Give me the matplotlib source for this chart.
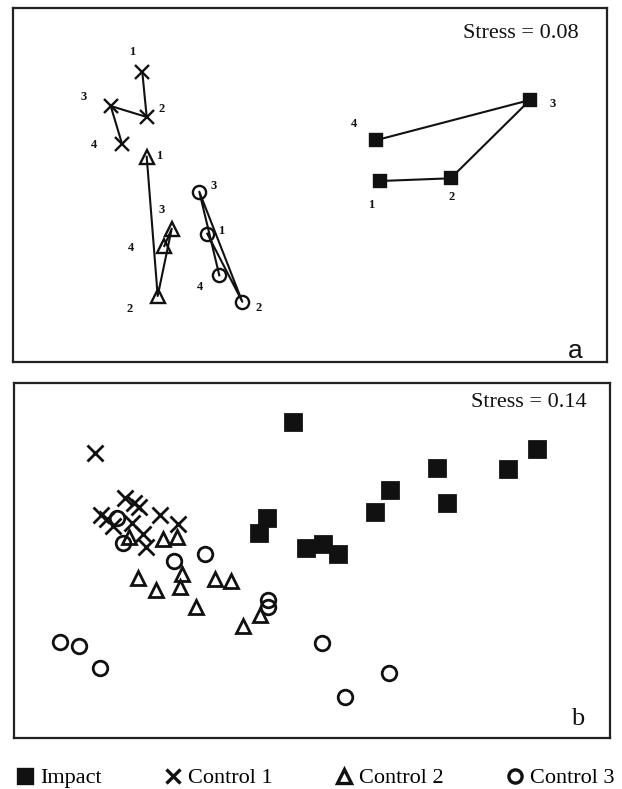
import matplotlib
matplotlib.use("Agg")
import matplotlib.pyplot as plt
from matplotlib.lines import Line2D

# ---------------- data (NMDS ordination coordinates, arbitrary units) -------------
# Panel a: centroids of the four sampling times (1-4) for each location
times_a = ["1", "2", "3", "4"]
impact_a_x = [367.0, 437.7, 517.0, 362.7]
impact_a_y = [181.0, 183.7, 262.0, 221.7]
c1_a_x = [129.3, 133.7, 97.7, 109.0]
c1_a_y = [290.0, 245.0, 256.0, 218.3]
c2_a_x = [133.7, 144.7, 158.7, 151.3]
c2_a_y = [205.3, 66.0, 133.3, 116.0]
c3_a_x = [194.3, 229.3, 186.3, 206.3]
c3_a_y = [128.3, 60.3, 170.3, 86.7]

# Panel b: individual replicate samples
impact_b_x = [278.7, 252.7, 245.3, 291.7, 308.7, 323.7, 361.0, 376.0, 423.3, 433.3, 494.3, 522.7]
impact_b_y = [315.7, 220.3, 205.3, 189.7, 193.7, 184.0, 226.3, 248.0, 270.3, 235.3, 269.0, 288.7]
c1_b_x = [81.0, 111.0, 120.0, 125.0, 87.0, 93.0, 99.0, 118.0, 129.0, 132.0, 146.0, 164.0]
c1_b_y = [285.0, 240.0, 235.0, 231.0, 223.0, 219.0, 212.0, 215.0, 204.0, 191.0, 223.0, 214.0]
c2_b_x = [115.3, 148.7, 162.7, 123.7, 142.0, 167.7, 166.0, 201.0, 217.0, 182.0, 228.7, 246.0]
c2_b_y = [201.3, 198.7, 201.3, 159.7, 148.0, 164.0, 150.7, 158.7, 157.3, 130.7, 112.3, 123.0]
c3_b_x = [103.3, 108.7, 191.0, 160.0, 254.3, 254.3, 46.0, 65.0, 86.0, 307.7, 375.3, 331.0]
c3_b_y = [219.7, 195.3, 184.0, 177.0, 138.0, 130.7, 96.3, 92.0, 70.3, 95.3, 65.3, 40.7]

stress_a = 0.08
stress_b = 0.14
legend_labels = ["Impact", "Control 1", "Control 2", "Control 3"]

# ---------------- style -------------
plt.rcParams["font.family"] = ["Liberation Serif", "DejaVu Serif"]
W, H = 622, 789
fig = plt.figure(figsize=(W / 100, H / 100), dpi=100)

def frac_axes(l, t, r, b):
    return fig.add_axes([l / W, 1 - b / H, (r - l) / W, (b - t) / H])

axa = frac_axes(13, 8, 607, 362)
axb = frac_axes(14, 383, 610, 738)

for ax, (w, h) in ((axa, (594, 354)), (axb, (596, 355))):
    ax.set_xlim(0, w)
    ax.set_ylim(0, h)
    ax.set_xticks([])
    ax.set_yticks([])
    for s in ax.spines.values():
        s.set_linewidth(1.6)
        s.set_color("#222222")

# marker styles
sty = {
    "impact": dict(marker="s", mfc="#111111", mec="#111111"),
    "c1": dict(marker="x", mfc="none", mec="#111111"),
    "c2": dict(marker="^", mfc="none", mec="#111111"),
    "c3": dict(marker="o", mfc="none", mec="#111111"),
}

# ---------- panel a ----------
label_off = {
    "impact": [(-9, -24), (1, -19), (23, -4), (-22, 16)],
    "c1": [(-10, 20), (15, 8), (-27, 9), (-28, -1)],
    "c2": [(12, 1), (-28, -13), (-10, 19), (-33, -2)],
    "c3": [(14, 3), (16, -6), (14, 6), (-19, -12)],
}
sizes_a = {"impact": 8.5, "c1": 9.5, "c2": 10.5, "c3": 9.5}
for key, xs, ys in (("impact", impact_a_x, impact_a_y), ("c1", c1_a_x, c1_a_y),
                    ("c2", c2_a_x, c2_a_y), ("c3", c3_a_x, c3_a_y)):
    axa.plot(xs, ys, color="#111111", lw=1.5, zorder=2)
    axa.plot(xs, ys, ls="none", ms=sizes_a[key], mew=1.7, zorder=3, **sty[key])
    for i, t in enumerate(times_a):
        axa.annotate(t, (xs[i], ys[i]), xytext=label_off[key][i], textcoords="offset pixels",
                     ha="center", va="center", fontsize=9, fontweight="bold", color="#111111")

axa.text(0.952, 0.916, f"Stress = {stress_a:.2f}", transform=axa.transAxes,
         ha="right", va="baseline", fontsize=16, color="#111111")
axa.text(0.947, 0.012, "a", transform=axa.transAxes, ha="center", va="baseline",
         fontsize=19, family=["Liberation Sans", "DejaVu Sans"], color="#111111")

# ---------- panel b ----------
sizes_b = {"impact": 12, "c1": 11.5, "c2": 10.5, "c3": 10.5}
for key, xs, ys in (("impact", impact_b_x, impact_b_y), ("c1", c1_b_x, c1_b_y),
                    ("c2", c2_b_x, c2_b_y), ("c3", c3_b_x, c3_b_y)):
    axb.plot(xs, ys, ls="none", ms=sizes_b[key], mew=2.0, zorder=3, **sty[key])

axb.text(0.961, 0.933, f"Stress = {stress_b:.2f}", transform=axb.transAxes,
         ha="right", va="baseline", fontsize=16, color="#111111")
axb.text(0.946, 0.037, "b", transform=axb.transAxes, ha="center", va="baseline",
         fontsize=19, color="#111111")

# ---------- legend ----------
handles = [Line2D([], [], ls="none", ms=ms, mew=2.4, **sty[k])
           for k, ms in (("impact", 10.5), ("c1", 10.5), ("c2", 9.5), ("c3", 9.5))]
fig.legend(handles, legend_labels, loc="center", ncol=4,
           bbox_to_anchor=(17 / W, 1 - 778 / H - 0.02, (615 - 17) / W, 0.04), mode="expand",
           frameon=False, fontsize=16, handlelength=0.7, handletextpad=0.35,
           borderaxespad=0.0, borderpad=0.0)

fig.savefig("out.png", dpi=100)
